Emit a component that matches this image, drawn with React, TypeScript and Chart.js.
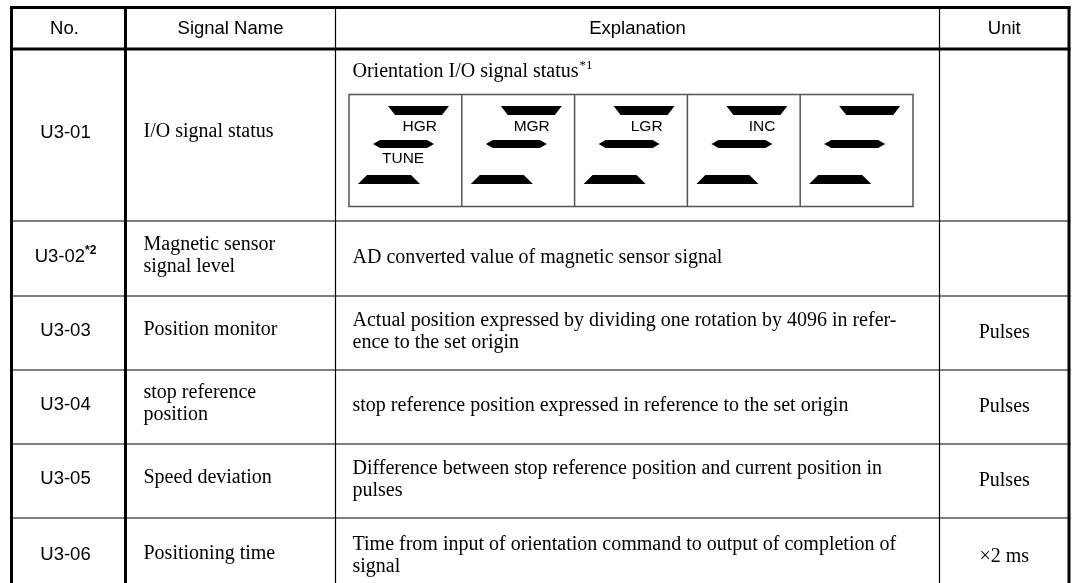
import React, { useEffect, useRef } from "react";
import { Chart, registerables } from "chart.js";

Chart.register(...registerables);

// ---------- content ----------
const headers = ["No.", "Signal Name", "Explanation", "Unit"];
const rowNumbers = ["U3-01", "U3-02", "U3-03", "U3-04", "U3-05", "U3-06"];
const rowNoteMarks = ["", "*2", "", "", "", ""];
const signalNames = [
  ["I/O signal status"],
  ["Magnetic sensor", "signal level"],
  ["Position monitor"],
  ["stop reference", "position"],
  ["Speed deviation"],
  ["Positioning time"],
];
const explanations = [
  [],
  ["AD converted value of magnetic sensor signal"],
  ["Actual position expressed by dividing one rotation by 4096 in refer-", "ence to the set origin"],
  ["stop reference position expressed in reference to the set origin"],
  ["Difference between stop reference position and current position in", "pulses"],
  ["Time from input of orientation command to output of completion of", "signal"],
];
const units = ["", "", "Pulses", "Pulses", "Pulses", "\u00d72 ms"];
const statusTitle = "Orientation I/O signal status";
const statusNote = "*1";
const statusUpperLabels = ["HGR", "MGR", "LGR", "INC", ""];
const statusLowerLabels = ["TUNE", "", "", "", ""];

// ---------- layout (in scale units) ----------
const W = 1074;
const H = 583;
const COL_X = [11.5, 125.5, 335.5, 939.5, 1069];
const COL_LW = [3, 3, 1.2, 1.2, 3];
const ROW_Y = [7.5, 49, 221, 296, 370, 444, 518, 595];
const ROW_LW = [3, 3, 1.2, 1.2, 1.2, 1.2, 1.2, 1.2];
const BOX = { left: 349, right: 913, top: 94.5, bottom: 206.5 };

const SERIF = '"Liberation Serif", "Times New Roman", serif';
const SANS = '"Liberation Sans", Arial, sans-serif';
const BODY_PX = 20;
const HEAD_PX = 18.5;
const LABEL_PX = 15.5;
const LINE_H = 22;

const tablePlugin = {
  id: "tablePlugin",
  afterDraw(chart: any) {
    const ctx: CanvasRenderingContext2D = chart.ctx;
    const sx = chart.scales.x;
    const sy = chart.scales.y;
    const X = (v: number) => sx.getPixelForValue(v);
    const Y = (v: number) => sy.getPixelForValue(v);

    ctx.save();
    ctx.fillStyle = "#ffffff";
    ctx.fillRect(0, 0, chart.width, chart.height);

    // grid lines
    ctx.strokeStyle = "#000";
    ROW_Y.forEach((y, i) => {
      ctx.lineWidth = ROW_LW[i];
      ctx.beginPath();
      ctx.moveTo(X(COL_X[0]) - 1.5, Y(y));
      ctx.lineTo(X(COL_X[COL_X.length - 1]) + 1.5, Y(y));
      ctx.stroke();
    });
    COL_X.forEach((x, i) => {
      ctx.lineWidth = COL_LW[i];
      ctx.beginPath();
      ctx.moveTo(X(x), Y(ROW_Y[0]) - 1.5);
      ctx.lineTo(X(x), Y(ROW_Y[ROW_Y.length - 1]));
      ctx.stroke();
    });

    ctx.fillStyle = "#000";
    ctx.textBaseline = "middle";

    // header
    ctx.font = `${HEAD_PX}px ${SANS}`;
    ctx.textAlign = "center";
    headers.forEach((h, i) => {
      const shift = i === 0 ? -4 : 0;
      const cx = (X(COL_X[i]) + X(COL_X[i + 1])) / 2 + shift;
      ctx.fillText(h, cx, (Y(ROW_Y[0]) + Y(ROW_Y[1])) / 2 + 1);
    });

    // rows
    rowNumbers.forEach((no, r) => {
      const cy = (Y(ROW_Y[r + 1]) + Y(ROW_Y[r + 2])) / 2;
      // number
      ctx.font = `${HEAD_PX}px ${SANS}`;
      const w1 = ctx.measureText(no).width;
      ctx.font = `bold 12px ${SANS}`;
      const w2 = rowNoteMarks[r] ? ctx.measureText(rowNoteMarks[r]).width : 0;
      const c0 = (X(COL_X[0]) + X(COL_X[1])) / 2 - 3;
      const start = c0 - (w1 + w2) / 2;
      ctx.textAlign = "left";
      ctx.font = `${HEAD_PX}px ${SANS}`;
      ctx.fillText(no, start, cy - 2);
      if (rowNoteMarks[r]) {
        ctx.font = `bold 12px ${SANS}`;
        ctx.fillText(rowNoteMarks[r], start + w1, cy - 8);
      }
      // signal name
      ctx.font = `${BODY_PX}px ${SERIF}`;
      const names = signalNames[r];
      names.forEach((line, k) => {
        const y = cy - 3 + (k - (names.length - 1) / 2) * LINE_H;
        ctx.fillText(line, X(COL_X[1]) + 18, y);
      });
      // explanation
      const ex = explanations[r];
      ex.forEach((line, k) => {
        const y = cy - 1 + (k - (ex.length - 1) / 2) * LINE_H;
        ctx.fillText(line, X(COL_X[2]) + 17, y);
      });
      // unit
      if (units[r]) {
        ctx.textAlign = "center";
        ctx.fillText(units[r], (X(COL_X[3]) + X(COL_X[4])) / 2, cy);
      }
    });

    // status title
    ctx.textAlign = "left";
    ctx.textBaseline = "alphabetic";
    ctx.font = `${BODY_PX}px ${SERIF}`;
    const tx = X(COL_X[2]) + 17;
    ctx.fillText(statusTitle, tx, Y(77));
    const tw = ctx.measureText(statusTitle).width;
    ctx.font = `13px ${SERIF}`;
    ctx.fillText(statusNote, tx + tw + 1, Y(69));

    // inner status diagram
    const n = statusUpperLabels.length;
    const cw = (BOX.right - BOX.left) / n;
    ctx.strokeStyle = "#555";
    ctx.lineWidth = 1.5;
    ctx.strokeRect(X(BOX.left), Y(BOX.top), X(BOX.right) - X(BOX.left), Y(BOX.bottom) - Y(BOX.top));
    for (let i = 1; i < n; i++) {
      const x = X(BOX.left + cw * i);
      ctx.beginPath();
      ctx.moveTo(x, Y(BOX.top));
      ctx.lineTo(x, Y(BOX.bottom));
      ctx.stroke();
    }
    ctx.fillStyle = "#000";
    const poly = (pts: number[][]) => {
      ctx.beginPath();
      pts.forEach(([px, py], j) => (j ? ctx.lineTo(X(px), Y(py)) : ctx.moveTo(X(px), Y(py))));
      ctx.closePath();
      ctx.fill();
    };
    for (let i = 0; i < n; i++) {
      const c = BOX.left + cw * i;
      // upper segment (inverted trapezoid)
      poly([[c + 39, 106], [c + 100, 106], [c + 93, 115], [c + 46, 115]]);
      // middle segment (hexagon)
      poly([[c + 24, 144], [c + 31, 140], [c + 78, 140], [c + 85, 144], [c + 78, 148], [c + 31, 148]]);
      // lower segment (trapezoid)
      poly([[c + 18, 175], [c + 62, 175], [c + 71, 184], [c + 9, 184]]);
      ctx.font = `${LABEL_PX}px ${SANS}`;
      if (statusUpperLabels[i]) {
        ctx.textAlign = "right";
        ctx.fillText(statusUpperLabels[i], X(c + 88), Y(131));
      }
      if (statusLowerLabels[i]) {
        ctx.textAlign = "left";
        ctx.fillText(statusLowerLabels[i], X(c + 33), Y(163));
      }
    }
    ctx.restore();
  },
};

export default function App() {
  const ref = useRef<HTMLCanvasElement | null>(null);
  useEffect(() => {
    if (!ref.current) return;
    const chart = new Chart(ref.current, {
      type: "scatter",
      data: { datasets: [] },
      options: {
        animation: false,
        responsive: false,
        devicePixelRatio: 1,
        layout: { padding: 0 },
        plugins: { legend: { display: false }, tooltip: { enabled: false } },
        scales: {
          x: { type: "linear", min: 0, max: W, display: false },
          y: { type: "linear", min: 0, max: H, reverse: true, display: false },
        },
      },
      plugins: [tablePlugin],
    });
    return () => chart.destroy();
  }, []);
  return (
    <div style={{ position: "fixed", left: 0, top: 0, width: W, height: H, background: "#fff" }}>
      <canvas ref={ref} width={W} height={H} />
    </div>
  );
}
